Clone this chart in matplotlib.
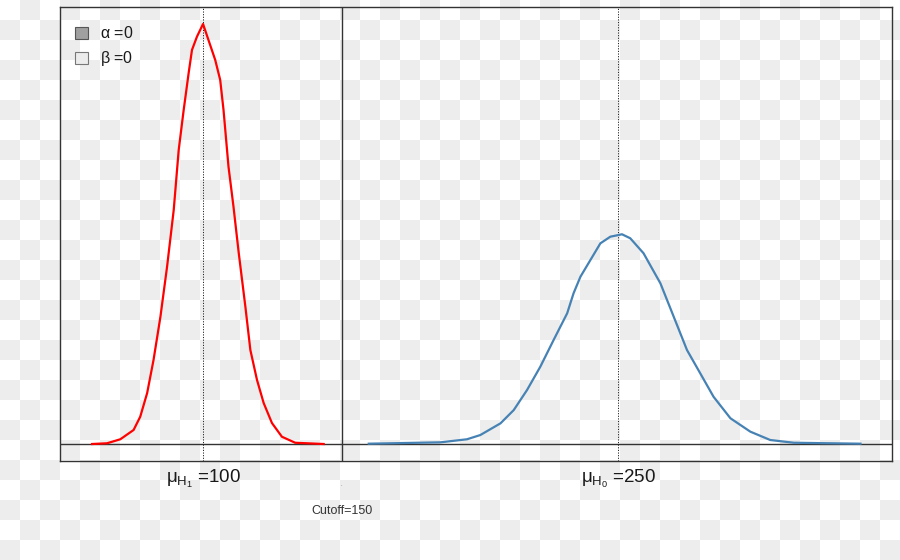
import numpy as np
import matplotlib
matplotlib.use("Agg")
import matplotlib.pyplot as plt
from matplotlib.patches import Patch
import matplotlib.transforms as mtransforms

plt.rcParams['font.family'] = ['Liberation Sans', 'DejaVu Sans']
plt.rcParams['mathtext.fontset'] = 'custom'
plt.rcParams['mathtext.rm'] = 'Liberation Sans'
plt.rcParams['mathtext.it'] = 'Liberation Sans'
plt.rcParams['mathtext.bf'] = 'Liberation Sans:bold'

# ---- data ----
mu_h1 = 100
mu_h0 = 250
cutoff = 150

h1_x = [59.8, 65.2, 70.0, 74.8, 77.2, 79.7, 82.0, 84.5, 86.9, 89.3, 91.1, 92.9,
        94.7, 95.9, 97.7, 99.9, 104.3, 106.1, 107.3, 109.1, 110.9, 112.8, 115.2,
        117.0, 119.4, 121.8, 124.8, 128.4, 133.2, 143.5]
h1_y = [0.0, 0.00007, 0.00045, 0.00133, 0.00259, 0.00483, 0.00796, 0.01207,
        0.01681, 0.02218, 0.02787, 0.03166, 0.03517, 0.03735, 0.03861, 0.03981,
        0.0364, 0.0345, 0.03166, 0.02628, 0.0225, 0.0181, 0.01301, 0.00891,
        0.00607, 0.00389, 0.00199, 0.00069, 0.00012, 0.0]

h0_x = [159.8, 185.7, 195.3, 200.1, 207.4, 212.2, 217.0, 221.8, 226.6, 231.5,
        233.8, 236.3, 239.9, 243.5, 247.1, 250.1, 251.3, 254.3, 259.1, 265.2,
        270.0, 274.8, 279.6, 284.4, 290.5, 297.7, 304.9, 313.4, 337.5]
h0_y = [0.00003, 0.00016, 0.00045, 0.00085, 0.00196, 0.00322, 0.00512, 0.00733,
        0.00986, 0.01239, 0.01428, 0.01586, 0.01744, 0.01902, 0.01965, 0.01981,
        0.01988, 0.0195, 0.01808, 0.01523, 0.01207, 0.00891, 0.0067, 0.00448,
        0.00244, 0.00117, 0.00038, 0.00012, 0.00003]

alpha_val = 0
beta_val = 0

# ---- figure ----
W, H = 900, 560
fig = plt.figure(figsize=(9, 5.6), dpi=100)

# checkerboard background
bg = fig.add_axes([0, 0, 1, 1], zorder=-10)
cols, rows = W // 20, H // 20
yy, xx = np.indices((rows, cols))
checker = ((xx + yy) % 2).astype(float)
bg.imshow(checker, cmap=matplotlib.colors.ListedColormap(['#ffffff', '#ededed']),
          extent=[0, W, H, 0], interpolation='nearest', aspect='auto')
bg.set_xlim(0, W)
bg.set_ylim(H, 0)
bg.axis('off')

ax = fig.add_axes([60 / W, (H - 461) / H, (892 - 60) / W, (461 - 7) / H])
ax.set_facecolor('none')
ax.set_xlim(48.2, 348.9)
ax.set_ylim(-0.00161, 0.04142)

for s in ax.spines.values():
    s.set_color('#333333')
    s.set_linewidth(1.0)

ax.axhline(0, color='#333333', lw=1.0, zorder=2)
ax.axvline(cutoff, color='#333333', lw=1.0, zorder=2)
ax.axvline(mu_h1, color='#222222', lw=0.7, ls=(0, (1.2, 1.5)), zorder=2)
ax.axvline(mu_h0, color='#222222', lw=0.7, ls=(0, (1.2, 1.5)), zorder=2)

ax.plot(h1_x, h1_y, color='#ff0000', lw=1.6, zorder=3, solid_joinstyle='round')
ax.plot(h0_x, h0_y, color='#4682b4', lw=1.6, zorder=3, solid_joinstyle='round')

ax.set_xticks([])
ax.set_yticks([])

trans = mtransforms.blended_transform_factory(ax.transData, ax.transAxes)
ax.text(mu_h1, -0.0478, r'$\mu_{\mathrm{H}_1}$ =' + str(mu_h1), transform=trans,
        ha='center', va='baseline', fontsize=13.5, color='#1a1a1a')
ax.text(mu_h0, -0.0478, r'$\mu_{\mathrm{H}_0}$ =' + str(mu_h0), transform=trans,
        ha='center', va='baseline', fontsize=13.5, color='#1a1a1a')
ax.text(cutoff, -0.1167, 'Cutoff=' + str(cutoff), transform=trans,
        ha='center', va='baseline', fontsize=9, color='#333333')
ax.text(cutoff, -0.052, '.', transform=trans, ha='center', va='center',
        fontsize=4, color='#555555')

handles = [Patch(facecolor='#a0a0a0', edgecolor='#555555', lw=0.8),
           Patch(facecolor='#ececec', edgecolor='#777777', lw=0.8)]
labels = [r'$\alpha$ =' + str(alpha_val), r'$\beta$ =' + str(beta_val)]
leg = ax.legend(handles, labels, loc='upper left', bbox_to_anchor=(0.004, 0.984),
                frameon=False, fontsize=11.5, handlelength=0.85, handleheight=0.85,
                handletextpad=0.75, labelspacing=0.5, borderaxespad=0.3)
for t in leg.get_texts():
    t.set_color('#1a1a1a')

fig.savefig('out.png', dpi=100)
